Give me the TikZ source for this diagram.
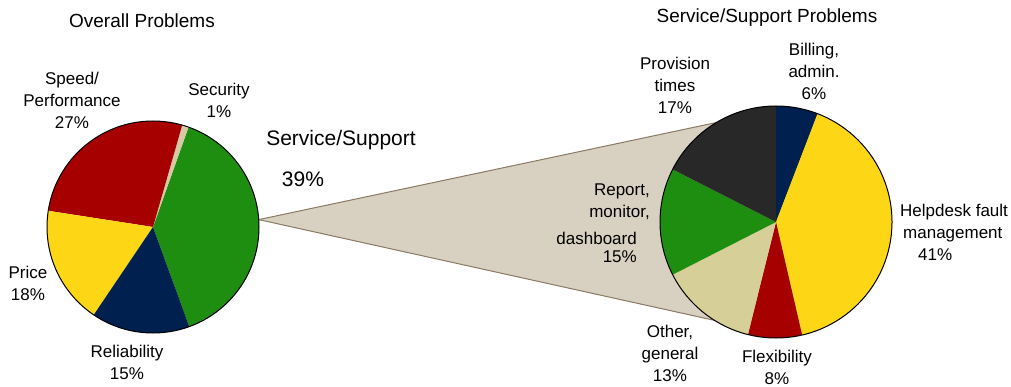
\documentclass[tikz,border=0pt]{standalone}
\usepackage{fontspec}
\setmainfont{Liberation Sans}
\usepackage{tikz}

\definecolor{pieRed}{HTML}{A60000}
\definecolor{pieYellow}{HTML}{FDD715}
\definecolor{pieNavy}{HTML}{00214F}
\definecolor{pieGreen}{HTML}{1E8E10}
\definecolor{pieDark}{HTML}{282828}
\definecolor{pieKhaki}{HTML}{D6CF98}
\definecolor{pieSand}{HTML}{D8C9A6}
\definecolor{wedgeFill}{HTML}{D8D1C2}
\definecolor{wedgeEdge}{HTML}{8A7A66}

\begin{document}
\begin{tikzpicture}[x=1pt,y=1pt,
      every node/.append style={inner sep=0pt,align=center},
      lbl/.style={font=\fontsize{17}{22}\selectfont},
      ttl/.style={font=\fontsize{19}{22}\selectfont},
      big/.style={font=\fontsize{21}{24}\selectfont},
      rim/.style={draw=black,line width=1pt}]
    \useasboundingbox (0,0) rectangle (1011,386);
    \coordinate (L) at (153,159);
    \coordinate (R) at (776,164);
    \path (L) ++(4:106) coordinate (tip);
    \path (R) ++(121:116) coordinate (wtop);
    \path (R) ++(238:116) coordinate (wbot);
    % shadow
    \foreach \s in {2,4,6,8} {
      \fill[black,opacity=0.09,yshift=-\s] (tip) -- (wtop) -- (R) -- (wbot) -- cycle;
      \fill[black,opacity=0.09,yshift=-\s] (R) circle (116);
    }
    % wedge
    \fill[wedgeFill] (tip) -- (wtop) -- (R) -- (wbot) -- cycle;
    \draw[wedgeEdge,line width=1pt] (tip) -- (wtop);
    \draw[wedgeEdge,line width=1pt] (tip) -- (wbot);
    % overall pie
    \fill[pieGreen] (L) -- ++(290:106) arc[start angle=290,end angle=430.4,radius=106] -- cycle;
    \fill[pieSand] (L) -- ++(70.4:106) arc[start angle=70.4,end angle=74,radius=106] -- cycle;
    \fill[pieRed] (L) -- ++(74:106) arc[start angle=74,end angle=171.2,radius=106] -- cycle;
    \fill[pieYellow] (L) -- ++(171.2:106) arc[start angle=171.2,end angle=236,radius=106] -- cycle;
    \fill[pieNavy] (L) -- ++(236:106) arc[start angle=236,end angle=290,radius=106] -- cycle;
    \draw[rim] (L) circle (106);
    % service/support pie
    \fill[pieNavy] (R) -- ++(69:116) arc[start angle=69,end angle=90,radius=116] -- cycle;
    \fill[pieYellow] (R) -- ++(-77:116) arc[start angle=-77,end angle=69,radius=116] -- cycle;
    \fill[pieRed] (R) -- ++(-104:116) arc[start angle=-104,end angle=-77,radius=116] -- cycle;
    \fill[pieKhaki] (R) -- ++(-153:116) arc[start angle=-153,end angle=-104,radius=116] -- cycle;
    \fill[pieGreen] (R) -- ++(-207:116) arc[start angle=-207,end angle=-153,radius=116] -- cycle;
    \fill[pieDark] (R) -- ++(-270:116) arc[start angle=-270,end angle=-207,radius=116] -- cycle;
    \draw[rim] (R) circle (116);
    % labels
    \node (overall) [ttl] at (142,365) {Overall Problems};
    \node (speed) [lbl] at (72,286) {Speed/\\Performance\\27\%};
    \node (security) [lbl] at (219,286) {Security\\1\%};
    \node (service) [big] at (341,246) {Service/Support};
    \node (servicepct) [big] at (303,207) {39\%};
    \node (price) [lbl] at (28,103) {Price\\18\%};
    \node (reliability) [lbl] at (127,24) {Reliability\\15\%};
    \node (support) [ttl] at (767,368) {Service/Support Problems};
    \node (billing) [lbl] at (814,315) {Billing,\\admin.\\6\%};
    \node (provision) [lbl] at (675,301) {Provision\\times\\17\%};
    \node (report) [lbl,anchor=east,align=right] at (650,184.5) {Report,\\monitor,};
    \node (dashboard) [lbl,anchor=east,align=right,font=\fontsize{17}{18}\selectfont] at (637,139) {dashboard\\15\%};
    \node (helpdesk) [lbl,anchor=west,align=left] at (900,154) {Helpdesk fault\\\hspace*{3pt}management\\\hspace*{18pt}41\%};
    \node (other) [lbl] at (670,33) {Other,\\general\\13\%};
    \node (flexibility) [lbl] at (777,19) {Flexibility\\8\%};
  \end{tikzpicture}
\end{document}
